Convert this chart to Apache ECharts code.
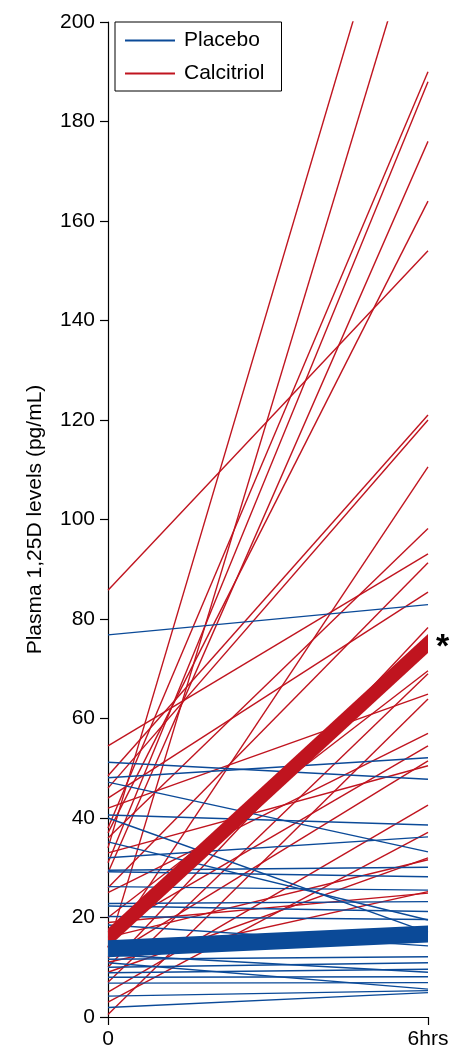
<!DOCTYPE html>
<html>
<head>
<meta charset="utf-8">
<script src="https://cdn.jsdelivr.net/npm/echarts@6.0.0/dist/echarts.min.js"></script>
<style>
  html, body { margin: 0; padding: 0; background: #fff; }
  #charts { width: 454px; height: 1052px; }
</style>
</head>
<body>
<div id="charts"></div>
<script>
const timeLabels = ["0", "6hrs"];
const yTicks = { min: 0, max: 200, step: 20 };

// one patient per index, value at 0 and at 6hrs
const placeboStart = [76.8, 51.2, 48.1, 47.2, 40.6, 40.0, 35.2, 32.0, 29.5, 29.2, 26.2, 22.8, 22.3, 20.2, 18.5, 11.6, 10.9, 10.0, 8.9, 8.0, 6.8, 4.2, 1.9, 12.5];
const placeboEnd = [82.9, 47.8, 52.1, 33.2, 38.6, 17.0, 19.5, 36.2, 30.1, 28.2, 25.5, 23.2, 21.2, 19.6, 14.3, 12.1, 5.6, 10.9, 9.6, 8.1, 6.9, 5.3, 4.9, 9.0];

const calcitriolStart = [34, 14, 38, 31, 29, 37, 85.8, 48.5, 46, 14, 36, 54.5, 26, 44, 10, 20, 7, 42, 0.5, 25, 17, 12, 33, 5, 3, 9, 16, 11, 19];
const calcitriolEnd = [251, 227, 190, 188, 176, 164, 154, 121, 120, 110.6, 98.2, 93.1, 91.3, 85.4, 78.3, 69.6, 69, 64.9, 63.9, 57, 54.5, 51.5, 50.5, 42.6, 37.1, 32, 31.6, 25.2, 24.9];

const placeboMean = [13.7, 16.7];
const calcitriolMean = [15.9, 75.1];

const blue = "#0b4a98";
const red = "#c0141f";
const font = "Liberation Sans, Arial, Helvetica, sans-serif";

const lineSeries = function(name, data, color, width, z) {
  return {
    name: name,
    type: "line",
    data: data,
    symbol: "none",
    silent: true,
    z: z,
    lineStyle: { color: color, width: width },
    itemStyle: { color: color }
  };
};

// thick mean band, cut square at both time points like the original
const bandSeries = function(name, mean, color, thickness, z, mark) {
  return {
    name: name,
    type: "custom",
    silent: true,
    z: z,
    data: [[0, mean[0], mean[1]]],
    encode: { x: 0, y: [1, 2] },
    itemStyle: { color: color },
    renderItem: function(params, api) {
      const p0 = api.coord([0, api.value(1)]);
      const p1 = api.coord([1, api.value(2)]);
      const h = thickness / 2;
      const children = [{
        type: "polygon",
        shape: { points: [[p0[0], p0[1] - h], [p1[0], p1[1] - h], [p1[0], p1[1] + h], [p0[0], p0[1] + h]] },
        style: { fill: color }
      }];
      if (mark) {
        children.push({
          type: "text",
          x: p1[0] + 8,
          y: p1[1] + 4,
          style: { text: mark, fill: "#000", font: "bold 34px " + font, align: "left", verticalAlign: "middle" }
        });
      }
      return { type: "group", children: children };
    }
  };
};

const series = [];
for (let i = 0; i < calcitriolStart.length; i++) {
  series.push(lineSeries("Calcitriol", [calcitriolStart[i], calcitriolEnd[i]], red, 1.4, 2));
}
for (let i = 0; i < placeboStart.length; i++) {
  series.push(lineSeries("Placebo", [placeboStart[i], placeboEnd[i]], blue, 1.4, 3));
}
series.push(bandSeries("Calcitriol", calcitriolMean, red, 19, 4, "*"));
series.push(bandSeries("Placebo", placeboMean, blue, 17, 5));

const chart = echarts.init(document.getElementById("charts"));
const option = {
  animation: false,
  backgroundColor: "#fff",
  grid: { left: 108, right: 26, top: 22, bottom: 35 },
  legend: {
    data: ["Placebo", "Calcitriol"],
    orient: "vertical",
    left: 115,
    top: 22,
    padding: [8, 17, 7, 10],
    icon: "rect",
    itemWidth: 50,
    itemHeight: 2,
    itemGap: 12,
    borderColor: "#000",
    borderWidth: 1,
    borderRadius: 0,
    selectedMode: false,
    textStyle: { fontFamily: font, fontSize: 21, color: "#000", padding: [0, 0, 0, 4] }
  },
  xAxis: {
    type: "category",
    data: timeLabels,
    boundaryGap: false,
    axisLine: { lineStyle: { color: "#000", width: 1.2 } },
    axisTick: { length: 8, lineStyle: { color: "#000", width: 1.2 } },
    axisLabel: { fontFamily: font, fontSize: 21, color: "#000", margin: 12 }
  },
  yAxis: {
    type: "value",
    min: yTicks.min,
    max: yTicks.max,
    interval: yTicks.step,
    name: "Plasma 1,25D levels (pg/mL)",
    nameLocation: "middle",
    nameGap: 62,
    nameTextStyle: { fontFamily: font, fontSize: 21, color: "#000" },
    splitLine: { show: false },
    axisLine: { show: true, lineStyle: { color: "#000", width: 1.2 } },
    axisTick: { show: true, length: 8, lineStyle: { color: "#000", width: 1.2 } },
    axisLabel: { fontFamily: font, fontSize: 21, color: "#000", margin: 13 }
  },
  series: series
};
chart.setOption(option);
</script>
</body>
</html>
